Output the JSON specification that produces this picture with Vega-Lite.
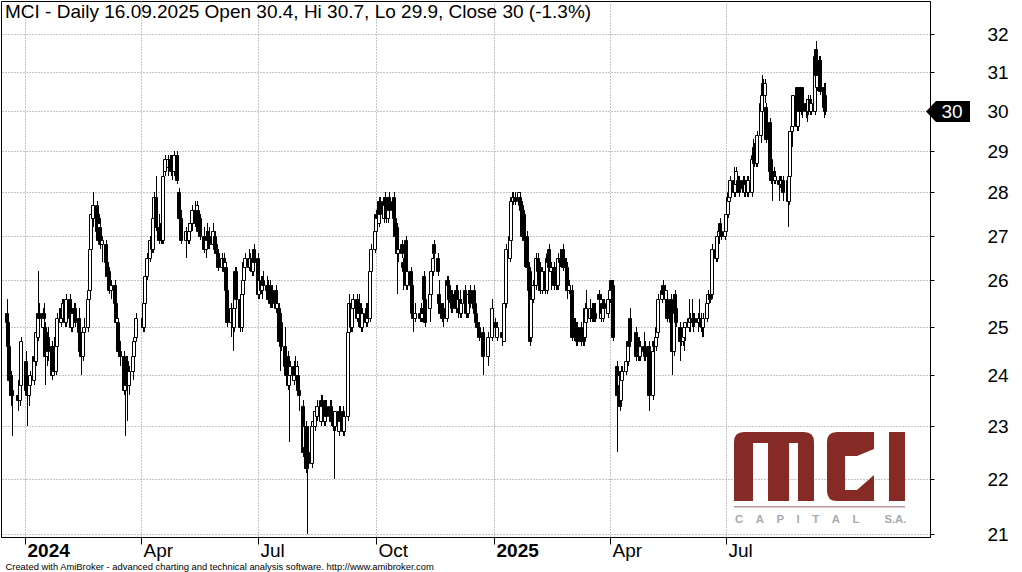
{
"$schema": "https://vega.github.io/schema/vega-lite/v6.json",
"width": 929, "height": 536,
"autosize": {"type": "none"},
"padding": {"left": 1, "top": 1, "right": 92, "bottom": 35},
"background": "white",
"title": {"text": "MCI - Daily 16.09.2025 Open 30.4, Hi 30.7, Lo 29.9, Close 30 (-1.3%)", "anchor": "start", "frame": "group", "orient": "top", "offset": -19, "baseline": "alphabetic", "dx": 4, "dy": 17, "fontSize": 19, "font": "Liberation Sans", "fontWeight": "normal", "color": "black"},
"config": {
  "view": {"stroke": "black", "strokeWidth": 1},
  "axis": {"domainColor": "black", "tickColor": "black", "labelColor": "black", "labelFont": "Liberation Sans", "labelFontSize": 19, "gridColor": "#8c8c8c", "gridDash": [1, 2], "gridOpacity": 1, "gridWidth": 1}
},
"data": {"values": "d,o,h,l,c\n2023-12-18,25.3,25.6,25.0,25.1\n2023-12-19,25.1,25.2,24.5,24.6\n2023-12-20,24.6,24.7,23.8,23.9\n2023-12-21,23.9,24.1,23.4,23.6\n2023-12-22,23.7,24.0,22.8,23.6\n2023-12-27,23.6,23.9,23.3,23.5\n2023-12-28,23.5,24.0,23.4,23.9\n2023-12-29,23.8,24.8,23.7,24.7\n2024-01-02,24.3,24.5,23.6,23.7\n2024-01-03,23.9,24.0,23.0,23.6\n2024-01-04,23.6,23.9,23.4,23.8\n2024-01-05,23.8,24.1,23.6,24.0\n2024-01-08,23.9,24.4,23.8,24.4\n2024-01-09,24.4,24.6,24.1,24.3\n2024-01-10,24.3,25.0,24.2,24.9\n2024-01-11,24.8,26.2,24.7,25.3\n2024-01-12,25.3,25.5,25.0,25.2\n2024-01-15,25.0,25.4,24.9,25.3\n2024-01-16,25.3,25.5,25.1,25.2\n2024-01-17,25.0,25.1,23.8,24.4\n2024-01-18,24.4,24.9,24.2,24.8\n2024-01-19,24.8,25.0,24.3,24.5\n2024-01-22,24.6,24.7,23.9,24.0\n2024-01-23,24.0,24.6,24.0,24.5\n2024-01-24,24.5,24.8,24.0,24.1\n2024-01-25,24.1,24.7,24.0,24.6\n2024-01-26,24.6,25.3,24.5,25.2\n2024-01-29,25.1,25.5,25.0,25.4\n2024-01-30,25.4,25.6,25.1,25.2\n2024-01-31,25.2,25.6,25.1,25.5\n2024-02-01,25.5,25.6,25.0,25.1\n2024-02-02,25.1,25.7,25.0,25.6\n2024-02-05,25.6,25.7,25.1,25.2\n2024-02-06,25.2,25.5,24.9,25.0\n2024-02-07,25.0,25.4,24.9,25.3\n2024-02-08,25.3,25.5,25.1,25.4\n2024-02-09,25.4,25.5,25.0,25.1\n2024-02-12,25.2,25.4,24.8,24.9\n2024-02-13,24.9,25.0,24.4,24.5\n2024-02-14,24.5,24.6,24.0,24.4\n2024-02-15,24.4,25.0,24.3,24.9\n2024-02-16,24.9,25.2,24.8,25.0\n2024-02-19,25.0,25.7,24.9,25.6\n2024-02-20,25.6,26.0,25.5,25.8\n2024-02-21,25.8,26.8,25.7,26.7\n2024-02-22,26.7,27.6,26.6,27.5\n2024-02-23,27.4,28.0,27.2,27.7\n2024-02-26,27.7,27.8,27.0,27.1\n2024-02-27,27.1,27.4,26.8,26.9\n2024-02-28,26.9,27.5,26.8,27.3\n2024-02-29,27.2,27.4,26.7,26.8\n2024-03-01,26.8,27.0,26.4,26.9\n2024-03-04,26.8,26.9,26.3,26.4\n2024-03-05,26.4,26.6,26.0,26.1\n2024-03-06,26.1,26.4,25.9,26.2\n2024-03-07,26.2,26.3,25.7,25.8\n2024-03-08,25.8,26.0,25.6,25.9\n2024-03-11,25.9,26.0,25.4,25.5\n2024-03-12,25.5,25.6,24.8,25.1\n2024-03-13,25.1,25.3,24.9,25.2\n2024-03-14,25.1,25.2,24.4,24.5\n2024-03-15,24.5,24.7,24.2,24.4\n2024-03-18,24.4,24.5,23.6,23.7\n2024-03-19,23.7,24.0,22.8,23.9\n2024-03-20,23.8,24.4,23.7,24.3\n2024-03-21,24.3,24.4,23.1,23.8\n2024-03-22,23.8,24.2,23.6,24.1\n2024-03-25,24.1,24.5,23.9,24.4\n2024-03-26,24.4,24.8,24.2,24.7\n2024-03-27,24.7,25.0,24.5,24.8\n2024-03-28,24.8,25.3,24.7,25.2\n2024-04-02,25.2,25.4,24.9,25.0\n2024-04-03,25.0,25.6,24.9,25.5\n2024-04-04,25.5,26.2,25.4,26.1\n2024-04-05,26.1,26.6,26.0,26.5\n2024-04-08,26.5,27.0,26.4,26.9\n2024-04-09,26.9,27.1,26.6,26.7\n2024-04-10,26.7,27.5,26.6,27.4\n2024-04-11,27.4,28.0,27.2,27.9\n2024-04-12,27.9,28.4,27.1,27.2\n2024-04-15,27.2,27.5,26.8,26.9\n2024-04-16,26.9,27.4,26.8,27.3\n2024-04-17,27.3,27.4,26.8,26.9\n2024-04-18,26.9,28.5,26.8,28.4\n2024-04-19,28.5,28.9,28.4,28.8\n2024-04-22,28.6,28.9,28.4,28.8\n2024-04-23,28.8,28.9,28.5,28.6\n2024-04-24,28.5,28.9,28.4,28.8\n2024-04-25,28.8,28.9,28.3,28.5\n2024-04-26,28.5,29.0,28.4,28.9\n2024-04-29,28.9,29.0,28.2,28.3\n2024-04-30,28.0,28.1,27.3,27.4\n2024-05-02,27.4,27.6,26.8,26.9\n2024-05-06,26.9,27.2,26.5,27.1\n2024-05-07,27.1,27.3,26.8,26.9\n2024-05-08,26.9,27.2,26.8,27.1\n2024-05-09,27.1,27.4,26.9,27.3\n2024-05-10,27.3,27.7,27.1,27.6\n2024-05-13,27.6,27.8,27.2,27.3\n2024-05-14,27.3,27.8,27.2,27.7\n2024-05-15,27.6,27.7,27.0,27.1\n2024-05-16,27.1,27.5,27.0,27.4\n2024-05-17,27.4,27.5,26.9,27.0\n2024-05-20,27.0,27.2,26.6,26.7\n2024-05-21,26.7,27.1,26.5,27.0\n2024-05-22,27.0,27.3,26.8,26.9\n2024-05-23,26.9,27.1,26.7,27.0\n2024-05-24,27.0,27.2,26.7,26.8\n2024-05-27,26.8,27.3,26.7,27.1\n2024-05-28,27.0,27.1,26.6,26.7\n2024-05-29,26.8,26.9,26.5,26.6\n2024-05-31,26.6,26.7,26.2,26.3\n2024-06-03,26.3,26.6,26.2,26.5\n2024-06-04,26.5,26.6,26.1,26.2\n2024-06-05,26.2,26.5,26.1,26.4\n2024-06-06,26.3,26.4,25.7,25.8\n2024-06-07,25.8,25.9,25.0,25.1\n2024-06-10,25.1,25.5,24.8,25.4\n2024-06-11,25.4,25.5,24.5,25.0\n2024-06-12,25.0,25.5,24.9,25.4\n2024-06-13,25.4,26.3,25.3,26.2\n2024-06-14,26.2,26.3,25.5,25.6\n2024-06-17,25.6,25.7,24.9,25.0\n2024-06-18,25.0,25.8,24.9,25.7\n2024-06-19,25.7,26.1,25.6,26.0\n2024-06-20,26.0,26.5,25.9,26.4\n2024-06-21,26.3,26.6,26.1,26.5\n2024-06-24,26.5,26.7,26.2,26.3\n2024-06-25,26.3,26.6,26.2,26.5\n2024-06-26,26.5,26.6,26.1,26.2\n2024-06-27,26.2,26.6,26.1,26.5\n2024-06-28,26.7,26.8,26.3,26.4\n2024-07-01,26.5,26.6,25.6,25.7\n2024-07-02,25.7,26.1,25.6,26.0\n2024-07-03,26.0,26.1,25.7,25.8\n2024-07-04,25.8,26.1,25.6,26.0\n2024-07-05,26.0,26.2,25.8,25.9\n2024-07-08,25.9,26.1,25.7,25.8\n2024-07-09,25.8,26.0,25.5,25.6\n2024-07-10,25.9,26.0,25.4,25.5\n2024-07-11,25.6,25.8,25.4,25.7\n2024-07-12,25.8,25.9,25.4,25.5\n2024-07-15,25.8,25.9,25.3,25.4\n2024-07-16,25.4,25.6,25.2,25.5\n2024-07-17,25.4,25.5,24.6,24.7\n2024-07-18,24.8,25.0,24.1,24.9\n2024-07-19,25.1,25.3,24.5,24.6\n2024-07-22,24.6,25.0,24.1,24.2\n2024-07-23,24.2,24.5,23.9,24.0\n2024-07-24,24.4,24.5,23.7,23.8\n2024-07-25,23.8,24.1,22.7,24.0\n2024-07-26,24.0,24.3,23.8,24.2\n2024-07-29,23.9,24.3,23.8,24.2\n2024-07-30,24.2,24.4,23.9,24.0\n2024-07-31,24.0,24.3,23.8,24.2\n2024-08-01,24.0,24.2,23.6,23.7\n2024-08-02,23.7,23.9,23.3,23.6\n2024-08-05,23.4,23.5,22.4,22.5\n2024-08-06,22.6,23.1,22.5,23.0\n2024-08-07,23.0,23.1,22.1,22.2\n2024-08-08,22.4,22.9,21.0,22.2\n2024-08-09,22.5,23.0,22.2,22.3\n2024-08-12,22.3,23.1,22.2,23.0\n2024-08-13,23.0,23.3,22.9,23.1\n2024-08-14,23.0,23.4,22.9,23.3\n2024-08-16,23.2,23.5,23.1,23.4\n2024-08-19,23.1,23.6,23.0,23.5\n2024-08-20,23.5,23.6,23.3,23.4\n2024-08-21,23.4,23.5,23.0,23.1\n2024-08-22,23.1,23.5,23.0,23.4\n2024-08-23,23.4,23.5,23.1,23.2\n2024-08-26,23.2,23.5,23.1,23.4\n2024-08-27,23.4,23.5,23.0,23.1\n2024-08-28,23.1,23.3,22.9,23.2\n2024-08-29,23.2,23.3,22.0,23.0\n2024-08-30,23.0,23.3,22.9,23.3\n2024-09-02,22.9,23.4,22.8,23.3\n2024-09-03,23.3,23.4,23.0,23.1\n2024-09-04,23.0,23.3,22.9,23.2\n2024-09-05,23.2,23.4,22.8,22.9\n2024-09-06,22.9,23.3,22.8,23.2\n2024-09-09,23.2,25.0,23.1,24.9\n2024-09-10,24.9,25.7,24.8,25.5\n2024-09-11,25.5,25.6,24.9,25.0\n2024-09-12,25.0,25.5,24.9,25.4\n2024-09-13,25.4,25.7,25.2,25.6\n2024-09-16,25.6,25.7,25.1,25.2\n2024-09-17,25.2,25.6,25.0,25.5\n2024-09-18,25.5,25.7,25.2,25.3\n2024-09-19,25.4,25.5,24.9,25.0\n2024-09-20,25.0,25.4,24.9,25.3\n2024-09-23,25.3,25.5,25.0,25.1\n2024-09-24,25.1,25.5,25.0,25.4\n2024-09-25,25.4,25.5,25.1,25.2\n2024-09-26,25.2,26.3,25.1,26.2\n2024-09-27,26.2,26.8,26.1,26.7\n2024-09-30,26.7,27.2,26.6,27.1\n2024-10-01,27.1,27.6,27.0,27.5\n2024-10-02,27.5,27.8,27.3,27.4\n2024-10-03,27.3,27.9,27.2,27.8\n2024-10-04,27.8,27.9,27.4,27.5\n2024-10-07,27.4,27.9,27.3,27.8\n2024-10-08,27.9,28.0,27.6,27.7\n2024-10-09,27.7,27.9,27.3,27.4\n2024-10-10,27.4,27.9,27.3,27.9\n2024-10-11,27.9,28.0,27.4,27.6\n2024-10-14,27.6,27.9,27.5,27.8\n2024-10-15,27.9,28.0,27.3,27.4\n2024-10-16,27.4,27.5,26.9,27.0\n2024-10-17,27.2,27.3,25.7,26.6\n2024-10-18,26.6,26.8,26.4,26.7\n2024-10-21,26.8,26.9,26.5,26.6\n2024-10-22,26.3,26.5,25.8,26.4\n2024-10-23,26.4,26.6,26.1,26.2\n2024-10-24,26.9,27.0,25.8,25.9\n2024-10-25,25.9,26.3,25.8,26.2\n2024-10-28,26.2,26.3,25.8,25.9\n2024-10-29,25.9,26.0,25.2,25.3\n2024-10-30,25.3,25.4,24.9,25.2\n2024-10-31,25.2,25.5,25.1,25.3\n2024-11-04,25.2,25.4,25.1,25.3\n2024-11-05,25.3,25.5,25.1,25.2\n2024-11-06,25.2,25.4,25.1,25.3\n2024-11-07,26.1,26.2,25.5,25.6\n2024-11-08,25.6,25.7,25.0,25.1\n2024-11-12,25.4,25.8,25.1,25.7\n2024-11-13,25.7,26.3,25.6,26.2\n2024-11-14,26.2,26.6,26.1,26.5\n2024-11-15,26.8,26.9,26.5,26.6\n2024-11-18,26.5,26.6,26.1,26.2\n2024-11-19,25.7,26.0,25.4,25.5\n2024-11-20,25.5,25.6,25.2,25.3\n2024-11-21,25.2,25.5,25.1,25.4\n2024-11-22,25.4,25.5,25.0,25.2\n2024-11-25,25.2,26.1,25.1,26.0\n2024-11-26,26.0,26.1,25.8,25.9\n2024-11-27,25.9,26.0,25.5,25.6\n2024-11-28,25.6,25.8,25.3,25.7\n2024-11-29,25.7,25.8,25.3,25.4\n2024-12-02,25.4,25.9,25.3,25.8\n2024-12-03,25.8,25.9,25.3,25.4\n2024-12-04,25.4,25.7,25.2,25.6\n2024-12-05,25.6,25.8,25.2,25.3\n2024-12-06,25.3,25.6,25.2,25.5\n2024-12-09,25.8,25.9,25.4,25.5\n2024-12-10,25.5,25.6,25.2,25.3\n2024-12-11,25.3,25.5,25.2,25.4\n2024-12-12,25.3,25.8,25.2,25.7\n2024-12-13,25.8,25.9,25.4,25.5\n2024-12-16,25.8,25.9,25.3,25.4\n2024-12-17,25.5,25.6,25.2,25.3\n2024-12-18,25.3,25.4,25.0,25.1\n2024-12-19,25.1,25.2,24.9,25.0\n2024-12-20,25.0,25.1,24.7,24.8\n2024-12-23,24.9,25.0,24.0,24.4\n2024-12-27,24.4,24.9,24.2,24.8\n2024-12-30,24.8,25.6,24.7,25.4\n2025-01-02,25.1,25.2,24.9,25.0\n2025-01-03,24.8,25.1,24.7,25.0\n2025-01-07,24.8,25.0,24.6,24.9\n2025-01-08,24.9,25.0,24.7,24.8\n2025-01-09,24.7,25.6,24.7,25.5\n2025-01-10,25.5,26.8,25.4,26.7\n2025-01-13,26.5,27.1,26.4,27.0\n2025-01-14,26.9,27.9,26.8,27.8\n2025-01-15,27.8,28.0,27.7,27.9\n2025-01-16,27.8,28.0,27.7,27.9\n2025-01-17,27.9,28.0,27.7,27.8\n2025-01-20,27.8,28.0,27.7,28.0\n2025-01-21,27.9,28.0,27.6,27.7\n2025-01-22,27.7,27.8,27.5,27.6\n2025-01-23,27.7,27.8,26.9,27.0\n2025-01-24,27.5,27.6,26.3,26.9\n2025-01-27,27.0,27.1,26.2,26.3\n2025-01-28,26.3,26.4,25.7,25.8\n2025-01-29,26.2,26.3,24.6,24.7\n2025-01-30,24.8,25.7,24.7,25.6\n2025-01-31,25.6,26.0,25.5,25.9\n2025-02-03,25.9,26.6,25.8,26.5\n2025-02-04,26.5,26.6,26.1,26.2\n2025-02-05,26.2,26.4,26.1,26.3\n2025-02-06,26.3,26.4,25.7,25.8\n2025-02-07,25.8,26.3,25.7,26.2\n2025-02-10,26.2,26.3,25.7,25.8\n2025-02-11,25.8,26.6,25.7,26.5\n2025-02-12,26.4,26.6,26.3,26.6\n2025-02-13,26.7,26.8,26.2,26.3\n2025-02-14,26.2,26.4,25.8,26.3\n2025-02-17,26.3,26.4,25.8,25.9\n2025-02-18,25.9,26.4,25.8,26.3\n2025-02-19,26.3,26.4,25.8,25.9\n2025-02-20,25.9,26.6,25.8,26.5\n2025-02-21,26.5,26.7,26.3,26.4\n2025-02-24,26.7,26.8,26.2,26.3\n2025-02-25,26.3,26.5,26.1,26.4\n2025-02-26,26.4,26.5,25.9,26.3\n2025-02-27,26.3,26.4,25.6,25.8\n2025-02-28,25.8,26.0,25.7,25.9\n2025-03-03,25.8,25.9,24.7,24.8\n2025-03-04,24.8,25.2,24.7,25.1\n2025-03-05,25.1,25.2,24.7,24.8\n2025-03-06,24.8,25.1,24.6,25.0\n2025-03-07,25.0,25.1,24.6,24.7\n2025-03-10,25.0,25.1,24.6,24.7\n2025-03-11,24.7,25.1,24.6,25.0\n2025-03-12,25.0,25.1,24.6,24.7\n2025-03-13,24.8,25.5,24.7,25.4\n2025-03-14,25.1,25.8,25.0,25.4\n2025-03-17,25.2,25.6,25.1,25.4\n2025-03-18,25.4,25.5,25.1,25.2\n2025-03-19,25.2,25.5,25.1,25.4\n2025-03-20,25.4,25.5,25.1,25.2\n2025-03-21,25.3,25.5,25.1,25.2\n2025-03-24,25.7,25.8,25.5,25.6\n2025-03-25,25.2,25.7,25.1,25.6\n2025-03-26,25.5,25.6,25.2,25.3\n2025-03-27,25.2,25.6,25.1,25.5\n2025-03-28,25.5,25.6,25.2,25.4\n2025-03-31,25.3,25.6,25.2,25.6\n2025-04-01,25.6,25.8,25.5,25.8\n2025-04-02,25.8,26.0,25.7,26.0\n2025-04-03,26.0,26.0,25.7,25.8\n2025-04-04,25.9,26.0,24.7,24.8\n2025-04-07,24.2,24.3,22.5,23.6\n2025-04-08,23.6,24.1,23.5,24.0\n2025-04-09,23.8,23.9,23.3,23.4\n2025-04-10,23.5,24.2,23.4,24.1\n2025-04-11,23.9,24.2,23.8,24.1\n2025-04-14,24.1,24.4,24.0,24.3\n2025-04-15,24.3,24.8,24.2,24.7\n2025-04-16,24.7,25.0,24.4,24.6\n2025-04-17,25.2,25.4,24.6,24.7\n2025-04-22,24.9,25.0,24.3,24.4\n2025-04-23,24.4,24.8,24.3,24.7\n2025-04-24,24.7,24.8,24.3,24.4\n2025-04-25,24.4,24.7,24.3,24.6\n2025-04-28,24.5,24.9,24.3,24.6\n2025-04-29,24.6,24.7,24.3,24.4\n2025-04-30,24.5,24.6,24.2,24.4\n2025-05-02,24.6,24.7,23.3,23.6\n2025-05-05,23.6,24.6,23.5,24.5\n2025-05-06,24.7,24.8,24.4,24.6\n2025-05-07,24.6,24.9,24.5,24.8\n2025-05-08,24.8,25.1,24.7,25.0\n2025-05-09,24.9,25.7,24.9,25.6\n2025-05-12,25.6,25.9,25.5,25.8\n2025-05-13,25.9,26.0,25.6,25.7\n2025-05-14,25.8,25.9,25.6,25.7\n2025-05-15,25.6,25.8,25.5,25.8\n2025-05-16,25.6,25.7,25.1,25.2\n2025-05-19,25.6,25.7,25.0,25.1\n2025-05-20,25.3,25.4,24.0,24.5\n2025-05-21,24.5,25.7,24.4,25.6\n2025-05-22,25.7,25.8,25.2,25.3\n2025-05-23,25.4,25.5,25.0,25.1\n2025-05-26,25.0,25.1,24.3,24.7\n2025-05-27,24.8,25.0,24.6,24.7\n2025-05-28,24.7,25.0,24.6,24.9\n2025-05-29,24.8,25.0,24.5,25.0\n2025-05-30,25.0,25.1,24.7,25.1\n2025-06-02,25.0,25.6,24.9,25.2\n2025-06-03,25.1,25.3,24.9,25.2\n2025-06-04,25.2,25.6,25.0,25.1\n2025-06-05,25.1,25.3,24.9,25.2\n2025-06-06,25.2,25.3,25.0,25.1\n2025-06-09,25.1,25.3,24.9,25.2\n2025-06-10,25.1,25.6,25.0,25.2\n2025-06-11,25.2,25.3,24.9,25.1\n2025-06-12,25.1,25.2,24.8,25.0\n2025-06-13,25.0,25.3,24.8,25.2\n2025-06-16,25.2,25.6,25.1,25.5\n2025-06-17,25.5,25.8,25.4,25.7\n2025-06-18,25.7,25.8,25.5,25.6\n2025-06-20,25.7,26.8,25.6,26.7\n2025-06-23,26.7,26.8,26.4,26.5\n2025-06-24,26.5,27.1,26.4,27.0\n2025-06-25,27.0,27.2,26.8,27.1\n2025-06-26,27.3,27.4,27.0,27.1\n2025-06-27,27.1,27.2,26.9,27.0\n2025-06-30,27.0,27.1,26.9,27.1\n2025-07-01,27.1,27.6,27.0,27.5\n2025-07-02,27.5,28.0,27.4,27.9\n2025-07-03,27.8,28.1,27.7,28.0\n2025-07-04,27.9,28.4,27.9,28.3\n2025-07-07,28.3,28.6,27.9,28.0\n2025-07-08,28.0,28.3,27.9,28.2\n2025-07-09,28.2,28.6,28.1,28.5\n2025-07-10,28.3,28.4,28.0,28.0\n2025-07-11,28.3,28.4,27.9,28.0\n2025-07-14,28.3,28.4,28.0,28.1\n2025-07-15,28.3,28.4,27.9,28.0\n2025-07-16,28.0,28.3,27.9,28.2\n2025-07-17,28.3,28.4,27.9,28.0\n2025-07-18,28.0,28.4,27.9,28.3\n2025-07-21,28.0,28.9,27.9,28.8\n2025-07-22,28.8,29.3,28.7,28.9\n2025-07-23,29.1,29.2,28.6,28.7\n2025-07-24,29.0,29.1,28.6,28.7\n2025-07-25,28.7,29.5,28.6,29.4\n2025-07-28,29.4,30.3,29.2,30.2\n2025-07-29,30.0,30.9,29.9,30.4\n2025-07-30,30.7,30.8,30.3,30.4\n2025-07-31,30.4,30.8,30.2,30.7\n2025-08-01,30.1,30.2,29.2,29.3\n2025-08-04,29.7,29.8,28.4,28.5\n2025-08-05,28.8,28.9,28.2,28.3\n2025-08-06,28.5,28.6,27.8,28.3\n2025-08-07,28.5,28.6,28.2,28.3\n2025-08-08,28.3,28.5,28.2,28.4\n2025-08-11,28.2,28.4,27.8,28.3\n2025-08-12,28.3,28.4,28.1,28.2\n2025-08-13,28.2,28.4,28.1,28.3\n2025-08-14,28.3,28.4,27.8,28.0\n2025-08-18,28.3,28.4,27.2,27.8\n2025-08-19,27.8,28.5,27.7,28.4\n2025-08-20,28.4,29.5,28.3,29.5\n2025-08-21,29.5,29.7,29.1,29.6\n2025-08-22,29.6,30.4,29.5,30.4\n2025-08-25,30.6,30.6,29.5,29.6\n2025-08-26,29.6,30.6,29.5,30.5\n2025-08-27,30.6,30.6,29.8,30.0\n2025-08-28,30.0,30.6,29.9,30.5\n2025-08-29,30.6,30.6,29.8,30.0\n2025-09-01,30.0,30.3,29.8,30.2\n2025-09-02,30.2,30.3,29.7,30.0\n2025-09-03,30.0,30.4,29.9,30.3\n2025-09-04,30.3,30.4,29.9,30.0\n2025-09-05,30.0,30.3,29.9,30.2\n2025-09-08,30.0,31.5,29.9,31.4\n2025-09-09,31.6,31.8,30.8,30.9\n2025-09-10,30.6,31.0,30.5,30.9\n2025-09-11,30.9,31.4,30.8,31.3\n2025-09-12,31.3,31.4,30.4,30.5\n2025-09-15,30.6,30.7,29.8,30.1\n2025-09-16,30.4,30.7,29.9,30.0", "format": {"type": "csv", "parse": {"d": "date", "o": "number", "h": "number", "l": "number", "c": "number"}}},
"layer": [
  {
    "mark": {"type": "rule", "color": "black", "strokeWidth": 1, "xOffset": 0.5},
    "encoding": {
      "x": {"field": "d", "type": "temporal",
        "scale": {"type": "utc", "domain": [{"year": 2023, "month": 12, "date": 17, "hours": 8, "utc": true}, {"year": 2025, "month": 12, "date": 3, "utc": true}], "round": true, "nice": false},
        "axis": {"values": [{"year": 2024, "month": 1, "date": 1, "utc": true}, {"year": 2024, "month": 4, "date": 1, "utc": true}, {"year": 2024, "month": 7, "date": 1, "utc": true}, {"year": 2024, "month": 10, "date": 1, "utc": true}, {"year": 2025, "month": 1, "date": 1, "utc": true}, {"year": 2025, "month": 4, "date": 1, "utc": true}, {"year": 2025, "month": 7, "date": 1, "utc": true}],
          "labelExpr": "utcFormat(datum.value, utcmonth(datum.value) == 0 ? '%Y' : '%b')",
          "labelFontWeight": {"condition": {"test": "utcmonth(datum.value) == 0", "value": "bold"}, "value": "normal"},
          "labelAlign": "left", "labelBaseline": "alphabetic", "labelPadding": 12, "labelOffset": 2, "tickSize": 7,
          "labelOverlap": false, "labelFlush": false, "labelBound": false, "grid": true,
          "title": "Created with AmiBroker - advanced charting and technical analysis software. http://www.amibroker.com",
          "titleFont": "Liberation Sans", "titleFontSize": 9.4, "titleFontWeight": "normal", "titleColor": "black",
          "titleX": 4, "titleY": 32, "titleAlign": "left", "titleAnchor": "start", "titleBaseline": "alphabetic"}},
      "y": {"field": "l", "type": "quantitative",
        "scale": {"type": "log", "domain": [20.947, 32.90], "round": true, "nice": false},
        "axis": {"orient": "right", "values": [21, 22, 23, 24, 25, 26, 27, 28, 29, 30, 31, 32], "format": "d", "title": null, "tickSize": 4, "labelPadding": 53, "labelAlign": "left", "labelBaseline": "middle", "grid": true, "labelOverlap": false, "labelFlush": false}},
      "y2": {"field": "h"}
    }
  },
  {
    "mark": {"type": "bar", "width": 3, "stroke": "black", "strokeWidth": 1, "yOffset": 0.5, "y2Offset": 0.5},
    "encoding": {
      "x": {"field": "d", "type": "temporal"},
      "y": {"field": "o", "type": "quantitative"},
      "y2": {"field": "c"},
      "fill": {"condition": {"test": "datum.c >= datum.o", "value": "white"}, "value": "black"}
    }
  },
  {
    "data": {"values": [{}]},
    "mark": {"type": "point", "shape": "M-32,75 L-32,16 Q-32,6 -22,6 L38,6 Q48,6 48,16 L48,75 L32,75 L32,17 L23,17 L23,75 L2,75 L2,17 L-13,17 L-13,75 Z M108,6 L71,6 Q61,6 61,16 L61,65 Q61,75 71,75 L108,75 L108,49 L91,64 L79,64 L79,30 L91,30 L108,23 Z M123,6 L139,6 L139,75 L123,75 Z", "filled": true, "color": "#862a26", "strokeWidth": 0, "size": 4, "opacity": 1},
    "encoding": {"x": {"datum": {"year": 2025, "month": 8, "date": 1, "utc": true}, "type": "temporal"}, "y": {"datum": 23, "type": "quantitative"}}
  },
  {
    "data": {"values": [{}]},
    "mark": {"type": "point", "shape": "M-32,80 L139,80 L139,81.5 L-32,81.5 Z", "filled": true, "color": "#b8999a", "strokeWidth": 0, "size": 4, "opacity": 1},
    "encoding": {"x": {"datum": {"year": 2025, "month": 8, "date": 1, "utc": true}, "type": "temporal"}, "y": {"datum": 23, "type": "quantitative"}}
  },
  {
    "data": {"values": [{}]},
    "mark": {"type": "text", "text": "C\u00a0\u00a0\u00a0\u00a0A\u00a0\u00a0\u00a0\u00a0P\u00a0\u00a0\u00a0\u00a0I\u00a0\u00a0\u00a0\u00a0T\u00a0\u00a0\u00a0\u00a0A\u00a0\u00a0\u00a0\u00a0L\u00a0\u00a0\u00a0\u00a0\u00a0\u00a0\u00a0\u00a0S.A.", "font": "Liberation Sans", "fontWeight": "bold", "fontSize": 11.3, "color": "#a6aab2", "align": "left", "baseline": "alphabetic", "dx": -31, "dy": 97},
    "encoding": {"x": {"datum": {"year": 2025, "month": 8, "date": 1, "utc": true}, "type": "temporal"}, "y": {"datum": 23, "type": "quantitative"}}
  },
  {
    "data": {"values": [{}]},
    "mark": {"type": "point", "shape": "M1,0.5 L11,-10 L45,-10 L45,11 L11,11 Z", "filled": true, "color": "black", "strokeWidth": 0, "size": 4, "opacity": 1},
    "encoding": {"x": {"datum": {"year": 2025, "month": 12, "date": 3, "utc": true}, "type": "temporal"}, "y": {"datum": 30, "type": "quantitative"}}
  },
  {
    "data": {"values": [{}]},
    "mark": {"type": "text", "text": "30", "font": "Liberation Sans", "fontSize": 19, "color": "white", "align": "center", "baseline": "middle", "dx": 27, "dy": 1},
    "encoding": {"x": {"datum": {"year": 2025, "month": 12, "date": 3, "utc": true}, "type": "temporal"}, "y": {"datum": 30, "type": "quantitative"}}
  }
]
}
